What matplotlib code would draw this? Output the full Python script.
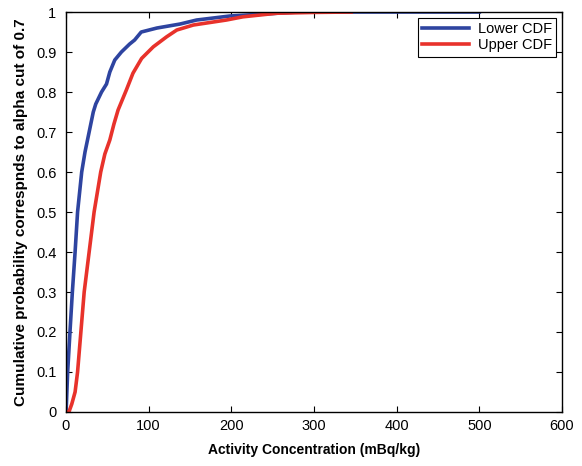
import numpy as np
import matplotlib.pyplot as plt

plt.rcParams['font.family'] = ['Liberation Sans', 'DejaVu Sans']

# values (activity, cumulative probability)
lower_x = [0, 0.5, 2, 4.8, 7.7, 11, 14, 19, 23, 28, 33, 36, 43, 49, 53, 59, 67, 77,
           83, 91, 110, 138, 158, 178, 198, 240, 280, 500]
lower_y = [0, 0.02, 0.1, 0.2, 0.3, 0.4, 0.5, 0.6, 0.65, 0.7, 0.75, 0.77, 0.8, 0.82,
           0.85, 0.88, 0.9, 0.92, 0.93, 0.95, 0.96, 0.97, 0.98, 0.985, 0.99, 0.995,
           1.0, 1.0]

upper_x = [1, 3.5, 7, 11, 14, 18, 22, 28, 34, 38, 42, 47, 53, 58, 63, 73, 81, 91.5,
           105.6, 121.7, 134, 154, 194, 214, 255, 300, 345]
upper_y = [0, 0.0, 0.02, 0.05, 0.1, 0.2, 0.3, 0.4, 0.5, 0.55, 0.6, 0.645, 0.68,
           0.72, 0.755, 0.805, 0.847, 0.884, 0.913, 0.938, 0.955, 0.9675, 0.98,
           0.988, 0.997, 0.999, 1.0]

fig = plt.figure(figsize=(5.82, 4.66), dpi=100)
ax = fig.add_axes([0.1134, 0.1159, 0.8522, 0.8583])

ax.plot(lower_x, lower_y, color='#2e44a0', lw=2.6, label='Lower CDF')
ax.plot(upper_x, upper_y, color='#e8322b', lw=2.6, label='Upper CDF')

ax.set_xlim(0, 600)
ax.set_ylim(0, 1)
ax.set_xticks(np.arange(0, 601, 100))
ax.set_yticks(np.arange(0, 1.01, 0.1))
ax.set_yticklabels(['0', '0.1', '0.2', '0.3', '0.4', '0.5', '0.6', '0.7', '0.8', '0.9', '1'])
ax.tick_params(direction='in', top=True, right=True, labelsize=10.5, length=4)
ax.tick_params(axis='x', pad=5)
ax.tick_params(axis='y', pad=7)
for s in ax.spines.values():
    s.set_linewidth(1.0)

ax.set_xlabel('Activity Concentration (mBq/kg)', fontsize=10, fontweight='bold',
              labelpad=7)
ax.set_ylabel('Cumulative probability correspnds to alpha cut of 0.7', fontsize=11,
              fontweight='bold', labelpad=6)

leg = ax.legend(loc='upper right', fontsize=10.5, fancybox=False, edgecolor='black',
                framealpha=1, borderaxespad=0.4, handlelength=3.2, borderpad=0.3,
                labelspacing=0.15, handletextpad=0.6)
leg.get_frame().set_linewidth(0.8)

fig.savefig('out.png', dpi=100)
